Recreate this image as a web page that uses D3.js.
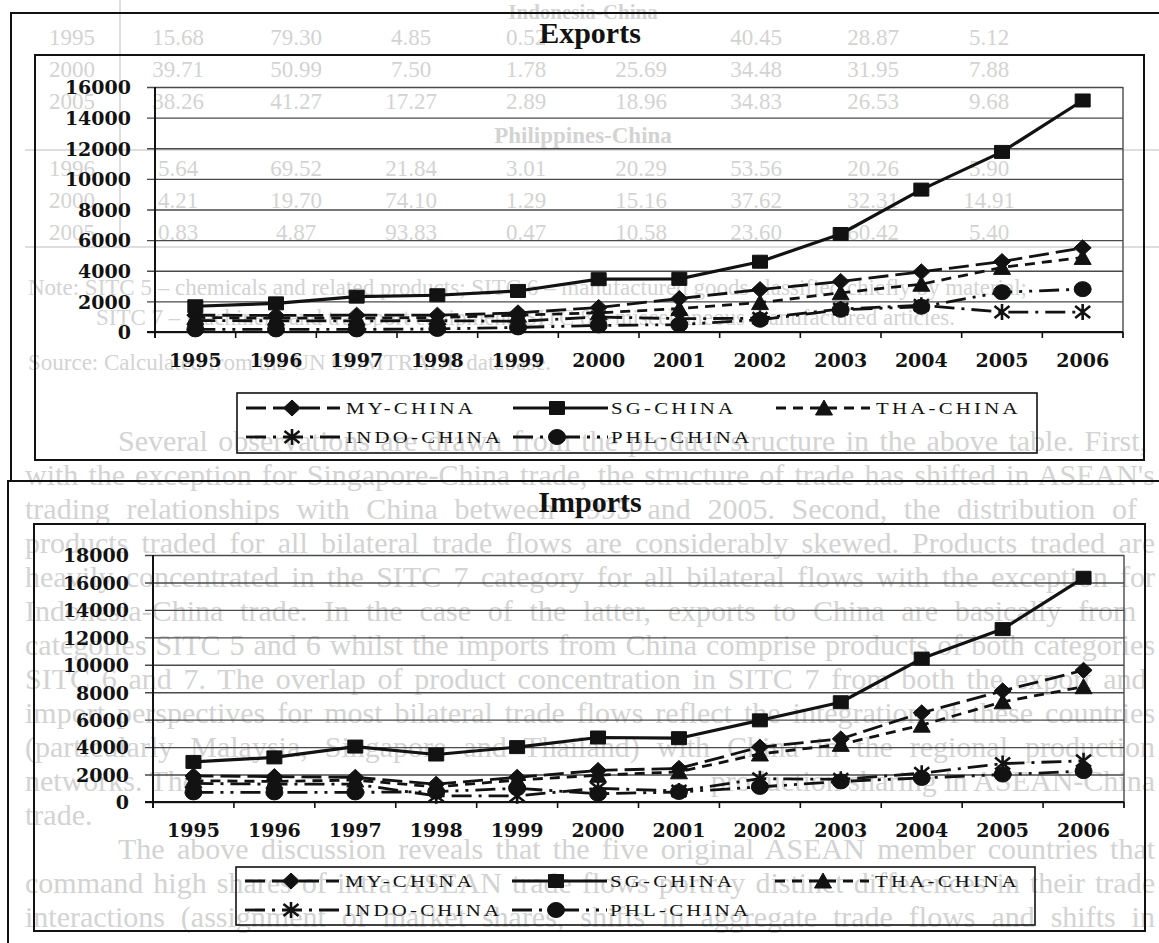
<!DOCTYPE html>
<html>
<head>
<meta charset="utf-8">
<script src="https://cdn.jsdelivr.net/npm/d3@7"></script>
<style>
  html, body { margin: 0; padding: 0; background: #ffffff; }
  svg { display: block; }
</style>
</head>
<body>
<svg id="page" width="1159" height="943"></svg>
<script>
// ---- data (US$ million) ----
const years = ["1995","1996","1997","1998","1999","2000","2001","2002","2003","2004","2005","2006"];
const seriesNames = ["MY-CHINA", "SG-CHINA", "THA-CHINA", "INDO-CHINA", "PHL-CHINA"];

const exportsMY   = [1100, 1080, 1100, 1100, 1250, 1600, 2180, 2770, 3300, 3930, 4600, 5500];
const exportsSG   = [1680, 1870, 2310, 2400, 2680, 3450, 3470, 4590, 6400, 9300, 11760, 15120];
const exportsTHA  = [950, 900, 900, 950, 1100, 1250, 1530, 1920, 2560, 3120, 4220, 4870];
const exportsINDO = [750, 730, 730, 740, 700, 980, 870, 900, 1500, 1750, 1300, 1300];
const exportsPHL  = [170, 170, 170, 200, 300, 430, 480, 800, 1450, 1650, 2600, 2800];

const importsMY   = [1900, 1850, 1800, 1300, 1800, 2300, 2450, 4000, 4600, 6500, 8100, 9600];
const importsSG   = [2920, 3250, 4040, 3460, 4000, 4700, 4650, 5950, 7270, 10450, 12600, 16340];
const importsTHA  = [1550, 1500, 1600, 1100, 1600, 1950, 2200, 3500, 4200, 5600, 7300, 8400];
const importsINDO = [1350, 1300, 1300, 450, 450, 1000, 800, 1700, 1650, 2100, 2800, 3000];
const importsPHL  = [700, 700, 700, 750, 1000, 600, 730, 1100, 1500, 1750, 2000, 2250];

const exportTicks = [0, 2000, 4000, 6000, 8000, 10000, 12000, 14000, 16000];
const importTicks = [0, 2000, 4000, 6000, 8000, 10000, 12000, 14000, 16000, 18000];

// ---- page text printed beneath the figures (table tail, notes, body text) ----
const tableGroups = ["Indonesia-China", "Philippines-China"];
const tableRows = [
  ["1995", "15.68", "79.30", "4.85", "0.52", "", "40.45", "28.87", "5.12"],
  ["2000", "39.71", "50.99", "7.50", "1.78", "25.69", "34.48", "31.95", "7.88"],
  ["2005", "38.26", "41.27", "17.27", "2.89", "18.96", "34.83", "26.53", "9.68"],
  ["1996", "5.64", "69.52", "21.84", "3.01", "20.29", "53.56", "20.26", "5.90"],
  ["2000", "4.21", "19.70", "74.10", "1.29", "15.16", "37.62", "32.31", "14.91"],
  ["2005", "0.83", "4.87", "93.83", "0.47", "10.58", "23.60", "60.42", "5.40"]
];
const noteLines = [
  "Note:  SITC 5 \u2013 chemicals and related products; SITC 6 \u2013 manufactured goods classified chiefly by material;",
  "SITC 7 \u2013 machinery and transport equipment; SITC 8 \u2013 miscellaneous manufactured articles.",
  "Source: Calculated from the UN COMTRADE database."
];
const bodyLines = [
  "Several observations are drawn from the product structure in the above table.  First,",
  "with the exception for Singapore-China trade, the structure of trade has shifted in ASEAN's",
  "trading relationships with China between 1995 and 2005.   Second, the distribution of",
  "products traded for all bilateral trade flows are considerably skewed. Products traded are",
  "heavily concentrated in the SITC 7 category for all bilateral flows with the exception for",
  "Indonesia-China trade.   In the case of the latter, exports to China are basically from",
  "categories SITC 5 and 6 whilst the imports from China comprise products of both categories",
  "SITC 6 and 7.   The overlap of product concentration in SITC 7 from both the export and",
  "import perspectives for most bilateral trade flows reflect the integration of these countries",
  "(particularly Malaysia, Singapore and Thailand) with China in the regional production",
  "networks.  The",
  "trade.",
  "The above discussion reveals that the five original ASEAN member countries that",
  "command high shares of intra-ASEAN trade flows portray distinct differences in their trade",
  "interactions (assignment of market shares, shifts in aggregate trade flows and shifts in"
];
const bodyTail = "production sharing in ASEAN-China";

// ---- series appearance ----
const seriesStyle = {
  "MY-CHINA":   { marker: "diamond",  dash: "20,7",            width: 2.8 },
  "SG-CHINA":   { marker: "square",   dash: null,              width: 3.2 },
  "THA-CHINA":  { marker: "triangle", dash: "10,7",            width: 2.8 },
  "INDO-CHINA": { marker: "star",     dash: "20,7,3,7",        width: 2.8 },
  "PHL-CHINA":  { marker: "circle",   dash: "20,7,3,7,3,7",    width: 2.8 }
};

const INK = "#121212";
const GRID = "#4a4a4a";
const FAINT = "#d3d3d3";
const SERIF = "'Liberation Serif', 'Times New Roman', serif";
const svg = d3.select("#page");

// justify a text line between two x positions (wider word gaps, or a slight squeeze)
function justify(textSel, x0, x1) {
  const node = textSel.node();
  const natural = node.getComputedTextLength();
  const target = x1 - x0;
  const gaps = (textSel.text().match(/ /g) || []).length;
  if (natural > target) {
    textSel.attr("textLength", target).attr("lengthAdjust", "spacingAndGlyphs");
  } else if (gaps > 0) {
    textSel.style("word-spacing", ((target - natural) / gaps).toFixed(2) + "px");
  }
}

// ---- faint page text ----
function drawPageText() {
  const g = svg.append("g").attr("fill", FAINT).style("font-family", SERIF);

  // table rules
  g.append("line").attr("x1", 120).attr("x2", 120).attr("y1", 0).attr("y2", 247)
    .attr("stroke", FAINT).attr("stroke-width", 1.5);
  [150, 247].forEach(yy => g.append("line")
    .attr("x1", 25).attr("x2", 1159).attr("y1", yy).attr("y2", yy)
    .attr("stroke", FAINT).attr("stroke-width", 1.5));

  g.append("text").attr("x", 583).attr("y", 19).attr("text-anchor", "middle")
    .style("font-size", "21px").style("font-weight", "bold").text(tableGroups[0]);
  g.append("text").attr("x", 583).attr("y", 143).attr("text-anchor", "middle")
    .style("font-size", "23px").style("font-weight", "bold").text(tableGroups[1]);

  const colX = [72, 178, 296, 411, 526, 641, 756, 873, 989];
  const rowY = [45, 77, 109, 176, 208, 240];
  tableRows.forEach((row, r) => {
    row.forEach((cell, c) => {
      if (!cell) return;
      g.append("text").attr("x", colX[c]).attr("y", rowY[r])
        .attr("text-anchor", "middle").style("font-size", "23px").text(cell);
    });
  });

  g.append("text").attr("x", 28).attr("y", 295).style("font-size", "23px").text(noteLines[0]);
  g.append("text").attr("x", 96).attr("y", 325).style("font-size", "23px").text(noteLines[1]);
  g.append("text").attr("x", 28).attr("y", 370).style("font-size", "23px").text(noteLines[2]);

  const indentLines = new Set([0, 12]);
  const ragged = new Set([10, 11]);
  bodyLines.forEach((txt, k) => {
    const x0 = indentLines.has(k) ? 118 : 25;
    const t = g.append("text").attr("x", x0).attr("y", 451 + 34 * k)
      .style("font-size", "30px").text(txt);
    if (!ragged.has(k)) justify(t, x0, k === 0 ? 1150 : 1155);
  });
  g.append("text").attr("x", 1155).attr("y", 451 + 34 * 10).attr("text-anchor", "end")
    .style("font-size", "30px").text(bodyTail);
}

function markerPath(type) {
  switch (type) {
    case "square":   return "M-7.5,-6.5H7.5V6.5H-7.5Z";
    case "diamond":  return "M0,-8L8.5,0L0,8L-8.5,0Z";
    case "triangle": return "M0,-8L8.5,7H-8.5Z";
    case "circle":   return "M-8.5,0A8.5,7.5 0 1,0 8.5,0A8.5,7.5 0 1,0 -8.5,0Z";
    case "star":     return "M-7.5,-6L7.5,6M-7.5,6L7.5,-6M0,-8V8";
  }
}

function drawMarker(g, type, cx, cy) {
  const p = g.append("path")
    .attr("d", markerPath(type))
    .attr("transform", `translate(${cx},${cy})`);
  if (type === "star") {
    p.attr("fill", "none").attr("stroke", INK).attr("stroke-width", 2.6);
  } else {
    p.attr("fill", INK).attr("stroke", INK).attr("stroke-width", 1);
  }
}

function drawChart(cfg) {
  const g = svg.append("g");

  // outer box of the figure
  g.append("rect")
    .attr("x", cfg.outer[0]).attr("y", cfg.outer[1])
    .attr("width", cfg.outer[2] - cfg.outer[0]).attr("height", cfg.outer[3] - cfg.outer[1])
    .attr("fill", "none").attr("stroke", INK).attr("stroke-width", 2);

  // title
  g.append("text")
    .attr("x", cfg.titleX).attr("y", cfg.titleY)
    .attr("text-anchor", "middle")
    .style("font-family", SERIF)
    .style("font-weight", "bold").style("font-size", "30px")
    .attr("fill", INK)
    .text(cfg.title);

  // chart frame
  g.append("rect")
    .attr("x", cfg.frame[0]).attr("y", cfg.frame[1])
    .attr("width", cfg.frame[2] - cfg.frame[0]).attr("height", cfg.frame[3] - cfg.frame[1])
    .attr("fill", "none").attr("stroke", INK).attr("stroke-width", 2);

  const p = cfg.plot;
  const x = d3.scaleBand().domain(years).range([p.left, p.right]).padding(0);
  const y = d3.scaleLinear().domain([0, d3.max(cfg.ticks)]).range([p.bottom, p.top]);
  const w = p.right - p.left;

  // horizontal gridlines
  const grid = g.append("g").attr("transform", `translate(${p.left},0)`)
    .call(d3.axisLeft(y).tickValues(cfg.ticks).tickSize(-w).tickFormat(""));
  grid.select(".domain").remove();
  grid.selectAll(".tick line").attr("x1", -8).attr("stroke", GRID).attr("stroke-width", 1.4);

  // y labels
  const yAx = g.append("g").attr("transform", `translate(${p.left},0)`)
    .call(d3.axisLeft(y).tickValues(cfg.ticks).tickSize(0).tickPadding(24).tickFormat(d3.format("d")));
  yAx.select(".domain").remove();
  yAx.selectAll("text")
    .attr("dy", "0.36em")
    .style("font-family", "'DejaVu Serif', serif")
    .style("font-weight", "bold").style("font-size", "19px")
    .attr("fill", INK);

  // right border of plot area
  g.append("line")
    .attr("x1", p.right).attr("x2", p.right)
    .attr("y1", y(d3.max(cfg.ticks))).attr("y2", p.bottom + 6)
    .attr("stroke", GRID).attr("stroke-width", 1.4);

  // x axis labels centred on each year
  const xAx = g.append("g").attr("transform", `translate(0,${p.bottom})`)
    .call(d3.axisBottom(x).tickSize(0).tickPadding(0));
  xAx.select(".domain").remove();
  xAx.selectAll("text")
    .attr("y", 35).attr("dy", 0)
    .style("font-family", "'DejaVu Serif', serif")
    .style("font-weight", "bold").style("font-size", "19px")
    .attr("fill", INK);

  // category boundary ticks
  const bounds = d3.range(years.length + 1).map(i => p.left + i * x.step());
  g.append("g").selectAll("line").data(bounds).join("line")
    .attr("x1", d => d).attr("x2", d => d)
    .attr("y1", p.bottom).attr("y2", p.bottom + 6)
    .attr("stroke", INK).attr("stroke-width", 1.6);

  // axis lines
  g.append("line").attr("x1", p.left - 8).attr("x2", p.right)
    .attr("y1", p.bottom).attr("y2", p.bottom)
    .attr("stroke", INK).attr("stroke-width", 2);
  g.append("line").attr("x1", p.left).attr("x2", p.left)
    .attr("y1", y(d3.max(cfg.ticks))).attr("y2", p.bottom + 6)
    .attr("stroke", INK).attr("stroke-width", 2);

  // series
  const line = d3.line()
    .x(d => x(d.year) + x.bandwidth() / 2)
    .y(d => y(d.v));

  seriesNames.forEach((name, i) => {
    const st = seriesStyle[name];
    const pts = years.map((yr, k) => ({ year: yr, v: cfg.values[i][k] }));
    const sg = g.append("g");
    sg.append("path").datum(pts)
      .attr("d", line)
      .attr("fill", "none")
      .attr("stroke", INK)
      .attr("stroke-width", st.width)
      .attr("stroke-dasharray", st.dash)
      .attr("stroke-linejoin", "round");
    pts.forEach(d => drawMarker(sg, st.marker, x(d.year) + x.bandwidth() / 2, y(d.v)));
  });

  // legend
  const L = cfg.legend;
  g.append("rect")
    .attr("x", L.box[0]).attr("y", L.box[1])
    .attr("width", L.box[2] - L.box[0]).attr("height", L.box[3] - L.box[1])
    .attr("fill", "none").attr("stroke", INK).attr("stroke-width", 1.6);

  const cols = [
    { x0: 9,   x1: 103, m: 55,  t: 109 },
    { x0: 276, x1: 371, m: 320, t: 374 },
    { x0: 539, x1: 633, m: 587, t: 639 }
  ];
  const slots = [[0, 0], [0, 1], [0, 2], [1, 0], [1, 1]];
  seriesNames.forEach((name, i) => {
    const st = seriesStyle[name];
    const [row, col] = slots[i];
    const c = cols[col];
    const ly = L.rows[row];
    const lg = g.append("g").attr("transform", `translate(${L.box[0]},0)`);
    lg.append("line")
      .attr("x1", c.x0).attr("x2", c.x1).attr("y1", ly).attr("y2", ly)
      .attr("stroke", INK).attr("stroke-width", st.width)
      .attr("stroke-dasharray", st.dash);
    drawMarker(lg, st.marker, c.m, ly);
    lg.append("text")
      .attr("transform", `translate(${c.t},${ly + 5.5}) scale(1.3,1)`)
      .style("font-family", SERIF)
      .style("font-size", "16px").style("letter-spacing", "2.5px")
      .attr("fill", INK)
      .text(name);
  });
}

drawPageText();

drawChart({
  title: "Exports", titleX: 590, titleY: 43,
  outer: [11, 13, 1170, 481],
  frame: [35, 55, 1144, 460],
  plot: { left: 155, right: 1123, top: 87, bottom: 332 },
  ticks: exportTicks,
  values: [exportsMY, exportsSG, exportsTHA, exportsINDO, exportsPHL],
  legend: { box: [237, 393, 1037, 453], rows: [408, 437] }
});

drawChart({
  title: "Imports", titleX: 590, titleY: 512,
  outer: [8, 481, 1170, 960],
  frame: [34, 524, 1145, 931],
  plot: { left: 153, right: 1124, top: 555, bottom: 802 },
  ticks: importTicks,
  values: [importsMY, importsSG, importsTHA, importsINDO, importsPHL],
  legend: { box: [236, 867, 1035, 925], rows: [881, 910] }
});
</script>
</body>
</html>
